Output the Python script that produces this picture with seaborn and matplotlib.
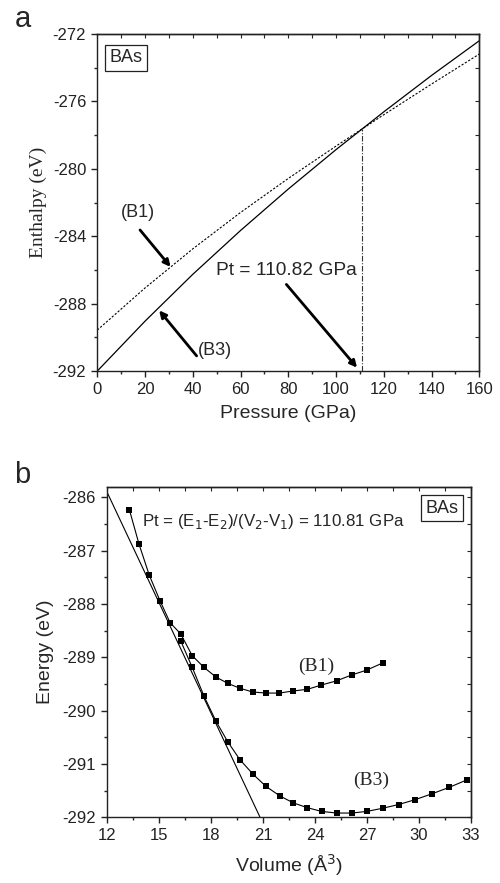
import numpy as np
import seaborn as sns
import matplotlib.pyplot as plt
from matplotlib.ticker import MultipleLocator

# panel a: enthalpy vs pressure
pressure = [0, 20, 40, 60, 80, 100, 120, 140, 160]
h_b3 = [-292.0, -289.04, -286.26, -283.66, -281.2, -278.86, -276.62, -274.46, -272.4]
h_b1 = [-289.57, -287.07, -284.75, -282.59, -280.57, -278.65, -276.79, -274.97, -273.19]
pt_a = 110.82

# panel b: energy vs volume
vol_b1 = [13.29, 13.85, 14.44, 15.06, 15.64, 16.25, 16.92, 17.60, 18.29, 18.98, 19.67,
          20.41, 21.17, 21.94, 22.75, 23.56, 24.36, 25.25, 26.12, 26.98, 27.94]
e_b1 = [-286.23, -286.88, -287.46, -287.94, -288.35, -288.56, -288.97, -289.19, -289.37,
        -289.49, -289.58, -289.65, -289.67, -289.67, -289.63, -289.60, -289.52, -289.44,
        -289.33, -289.24, -289.10]
vol_b3 = [16.25, 16.92, 17.60, 18.29, 18.98, 19.67, 20.42, 21.17, 21.98, 22.75, 23.56,
          24.39, 25.25, 26.12, 26.98, 27.91, 28.83, 29.77, 30.74, 31.73, 32.75]
e_b3 = [-288.69, -289.19, -289.73, -290.20, -290.59, -290.92, -291.19, -291.42, -291.60,
        -291.73, -291.82, -291.89, -291.92, -291.92, -291.89, -291.83, -291.76, -291.67,
        -291.56, -291.44, -291.30]
tangent_v = [12.0, 20.83]
tangent_e = [-285.9, -292.0]

sns.set_style('ticks')
plt.rcParams['font.family'] = ['Liberation Sans', 'DejaVu Sans']
plt.rcParams['axes.linewidth'] = 1.0
plt.rcParams['axes.unicode_minus'] = False

fig = plt.figure(figsize=(5, 8.83), dpi=100)
ax1 = fig.add_axes([0.1946, 0.5798, 0.764, 0.3817])
ax2 = fig.add_axes([0.214, 0.0744, 0.728, 0.3744])


def style_axes(ax, xmaj, xmin, ymaj, ymin, top_step, right_step):
    ax.xaxis.set_major_locator(MultipleLocator(xmaj))
    ax.xaxis.set_minor_locator(MultipleLocator(xmin))
    ax.yaxis.set_major_locator(MultipleLocator(ymaj))
    ax.yaxis.set_minor_locator(MultipleLocator(ymin))
    ax.tick_params(which='major', direction='out', length=4.5, width=1.0,
                   labelsize=12, colors='#222222')
    ax.tick_params(which='minor', direction='out', length=2.5, width=1.0)
    for s in ax.spines.values():
        s.set_visible(True)
        s.set_color('#222222')
    top = ax.secondary_xaxis('top')
    top.xaxis.set_major_locator(MultipleLocator(top_step))
    top.tick_params(direction='in', length=3, width=0.8, labeltop=False)
    right = ax.secondary_yaxis('right')
    right.yaxis.set_major_locator(MultipleLocator(right_step))
    right.tick_params(direction='in', length=3, width=0.8, labelright=False)


# ---- panel a ----
sns.lineplot(x=pressure, y=h_b3, color='k', lw=0.9, ax=ax1)
sns.lineplot(x=pressure, y=h_b1, color='k', lw=0.8, ax=ax1)
ax1.lines[-1].set_dashes([2, 1.5])
h_pt = np.interp(pt_a, pressure, h_b3)
ax1.plot([pt_a, pt_a], [-292, h_pt], color='#333333', lw=0.8, ls=(0, (5, 1.5, 1, 1.5)))
ax1.set_xlim(0, 160)
ax1.set_ylim(-292, -272)
style_axes(ax1, 20, 10, 4, 2, 10, 2)
ax1.set_xlabel('Pressure (GPa)', fontsize=14, labelpad=6)
ax1.set_ylabel('Enthalpy (eV)', fontsize=14, family=['Liberation Serif'], labelpad=4)

arrow = dict(arrowstyle='-|>', lw=2, color='k', mutation_scale=10, shrinkA=0, shrinkB=0)
ax1.annotate('', xy=(30.7, -285.82), xytext=(17.9, -283.63), arrowprops=arrow)
ax1.text(17.1, -282.6, '(B1)', fontsize=13, ha='center', va='center')
ax1.annotate('', xy=(25.9, -288.4), xytext=(41.6, -291.1), arrowprops=arrow)
ax1.text(42.3, -290.8, '(B3)', fontsize=13, ha='left', va='center')
ax1.annotate('', xy=(108.8, -291.8), xytext=(79.2, -286.86), arrowprops=arrow)
ax1.text(49.7, -286.05, 'Pt = 110.82 GPa', fontsize=13.8, ha='left', va='center')
ax1.text(0.075, 0.93, 'BAs', transform=ax1.transAxes, fontsize=13, ha='center', va='center',
         bbox=dict(boxstyle='square,pad=0.25', fc='white', ec='#222222', lw=0.9))
fig.text(0.045, 0.978, 'a', fontsize=21, ha='center', va='center')

# ---- panel b ----
sns.lineplot(x=tangent_v, y=tangent_e, color='k', lw=0.8, ax=ax2)
sns.lineplot(x=vol_b1, y=e_b1, color='k', lw=0.8, marker='s', markersize=4,
             markeredgewidth=0, sort=False, ax=ax2)
sns.lineplot(x=vol_b3, y=e_b3, color='k', lw=0.8, marker='s', markersize=4,
             markeredgewidth=0, sort=False, ax=ax2)
ax2.set_xlim(12, 33)
ax2.set_ylim(-292, -285.8)
style_axes(ax2, 3, 1.5, 1, 0.5, 1.5, 0.5)
ax2.set_xlabel('Volume (Å$^3$)', fontsize=14, labelpad=6)
ax2.set_ylabel('Energy (eV)', fontsize=14, labelpad=6)
ax2.text(14.0, -286.46, 'Pt = (E$_1$-E$_2$)/(V$_2$-V$_1$) = 110.81 GPa', fontsize=12.2,
         ha='left', va='center')
ax2.text(0.921, 0.935, 'BAs', transform=ax2.transAxes, fontsize=13, ha='center', va='center',
         bbox=dict(boxstyle='square,pad=0.25', fc='white', ec='#222222', lw=0.9))
ax2.text(24.09, -289.16, '(B1)', fontsize=14, family=['Liberation Serif'],
         ha='center', va='center')
ax2.text(27.23, -291.3, '(B3)', fontsize=14, family=['Liberation Serif'],
         ha='center', va='center')
fig.text(0.045, 0.462, 'b', fontsize=21, ha='center', va='center')

fig.savefig('out.png', dpi=100)
